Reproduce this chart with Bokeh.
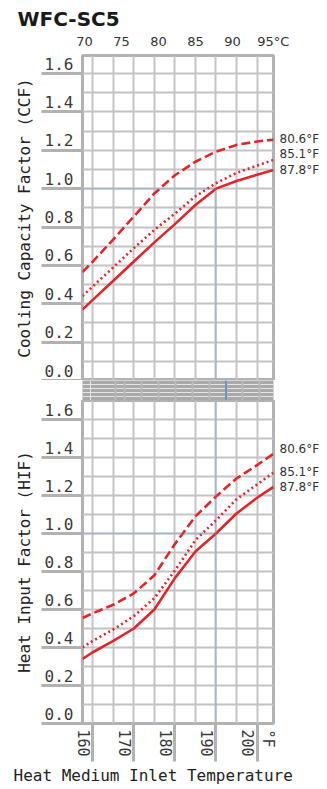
from bokeh.plotting import figure
from bokeh.models import FixedTicker, Range1d, BoxAnnotation, LinearAxis, Title, Grid, Span
from bokeh.layouts import column
from bokeh.embed import file_html
from bokeh.resources import INLINE

# ---------------- data ----------------
temp_f = [157.5, 160, 165, 170, 175, 180, 185, 190, 195, 200, 204]
ccf_806 = [0.565, 0.62, 0.735, 0.855, 0.975, 1.07, 1.14, 1.193, 1.228, 1.246, 1.255]
ccf_851 = [0.44, 0.49, 0.59, 0.69, 0.785, 0.87, 0.96, 1.028, 1.082, 1.12, 1.15]
ccf_878 = [0.37, 0.42, 0.52, 0.62, 0.72, 0.815, 0.915, 1.0, 1.04, 1.072, 1.097]
hif_806 = [0.555, 0.58, 0.625, 0.685, 0.78, 0.945, 1.09, 1.195, 1.29, 1.36, 1.42]
hif_851 = [0.40, 0.435, 0.495, 0.565, 0.66, 0.805, 0.965, 1.07, 1.18, 1.258, 1.32]
hif_878 = [0.34, 0.375, 0.435, 0.50, 0.60, 0.765, 0.905, 1.0, 1.105, 1.188, 1.245]
series_labels = ["80.6°F", "85.1°F", "87.8°F"]

y_tick_values = [0.0, 0.2, 0.4, 0.6, 0.8, 1.0, 1.2, 1.4, 1.6]
y_tick_labels = ["0.0", "0.2", "0.4", "0.6", "0.8", "1.0", "1.2", "1.4", "1.6"]
f_tick_values = [160, 170, 180, 190, 200]
f_tick_labels = ["160", "170", "180", "190", "200"]
f_unit_label = "°F"
c_tick_values = [70, 75, 80, 85, 90, 95]
c_tick_labels = ["70", "75", "80", "85", "90", "95°C"]
design_temp_f = 190
design_factor = 1.0

# ---------------- style ----------------
RED = "#e0262b"
BLUE = "#7292c0"
GRID = "#c4c4c4"
TICK = "#b2b2b2"
BAND = "#a9a9a9"
TXT = "#333333"
MONO = "DejaVu Sans Mono"
SANS = "DejaVu Sans"

W = 322
X_MIN, X_MAX = 157.5, 204.0
PX_PER_F = 194 / (X_MAX - X_MIN)
LABEL_SHIFT_Y = 0.052          # y label sits ~10px above its tick line
LABEL_SHIFT_X = 10 / PX_PER_F  # x label sits ~10px left of its tick line
F_UNIT_POS = X_MAX - 6 / PX_PER_F
C_UNIT_SHIFT = 4 / PX_PER_F    # last top label carries the unit suffix


def style_common(p):
    p.outline_line_color = TICK
    p.outline_line_width = 3
    p.background_fill_color = "white"
    p.border_fill_color = "white"
    p.xgrid.ticker = FixedTicker(ticks=list(range(160, 201, 5)))
    p.ygrid.ticker = FixedTicker(ticks=[i / 10 for i in range(0, 17)])
    for g in (p.xgrid, p.ygrid):
        g.grid_line_color = GRID
        g.grid_line_width = 2
    ax = p.yaxis[0]
    pos = [round(v + LABEL_SHIFT_Y, 3) for v in y_tick_values]
    ax.ticker = FixedTicker(ticks=pos, minor_ticks=y_tick_values)
    ax.major_label_overrides = {t: lab for t, lab in zip(pos, y_tick_labels)}
    ax.major_tick_line_color = None
    ax.major_tick_out = 0
    ax.major_tick_in = 0
    ax.minor_tick_out = 41
    ax.minor_tick_in = 0
    ax.minor_tick_line_color = TICK
    ax.minor_tick_line_width = 3
    ax.axis_line_color = None
    ax.major_label_standoff = -32
    ax.major_label_text_font = MONO
    ax.major_label_text_font_size = "16px"
    ax.major_label_text_color = "#3a3a3a"
    ax.axis_label_text_font = MONO
    ax.axis_label_text_font_size = "16px"
    ax.axis_label_text_font_style = "normal"
    ax.axis_label_text_color = "#222222"
    ax.axis_label_standoff = 8


def draw_curves(p, ys):
    p.line(temp_f, ys[0], line_color=RED, line_width=2.6, line_dash="9 4")
    p.line(temp_f, ys[1], line_color=RED, line_width=2.6, line_dash="2 3")
    p.line(temp_f, ys[2], line_color=RED, line_width=2.6)


def end_labels(p, ys, offsets_px, px_per_unit):
    pos = [round(y[-1] + off / px_per_unit, 4) for y, off in zip(ys, offsets_px)]
    ax = LinearAxis(ticker=FixedTicker(ticks=pos),
                    major_label_overrides={t: lab for t, lab in zip(pos, series_labels)})
    ax.major_tick_line_color = None
    ax.minor_tick_line_color = None
    ax.major_tick_out = 0
    ax.major_tick_in = 0
    ax.minor_tick_out = 0
    ax.minor_tick_in = 0
    ax.axis_line_color = None
    ax.major_label_standoff = 6
    ax.major_label_text_font = SANS
    ax.major_label_text_font_size = "12px"
    ax.major_label_text_color = TXT
    p.add_layout(ax, "right")


# ---------------- upper: CCF ----------------
up = figure(width=W, height=380, x_range=Range1d(X_MIN, X_MAX), y_range=Range1d(0, 1.694),
            x_axis_location="above", output_backend="svg", toolbar_location=None,
            min_border_left=82, min_border_right=W - 276, min_border_top=55, min_border_bottom=0)
style_common(up)
up.yaxis[0].axis_label = "Cooling Capacity Factor (CCF)"

xa = up.xaxis[0]
cpos = [c * 9 / 5 + 32 for c in c_tick_values]
cpos[-1] = cpos[-1] + C_UNIT_SHIFT
xa.ticker = FixedTicker(ticks=cpos)
xa.major_label_overrides = {t: lab for t, lab in zip(cpos, c_tick_labels)}
xa.major_tick_line_color = None
xa.minor_tick_line_color = None
xa.major_tick_out = 0
xa.major_tick_in = 0
xa.minor_tick_out = 0
xa.minor_tick_in = 0
xa.axis_line_color = None
xa.major_label_standoff = 7
xa.major_label_text_font = SANS
xa.major_label_text_font_size = "13px"
xa.major_label_text_color = TXT

up.title.text = "WFC-SC5"
up.title.text_font = SANS
up.title.text_font_style = "bold"
up.title.text_font_size = "20px"
up.title.text_color = "#1a1a1a"
up.title.align = "left"
up.title.offset = -65
up.title.standoff = 0

draw_curves(up, [ccf_806, ccf_851, ccf_878])
end_labels(up, [ccf_806, ccf_851, ccf_878], [1, 6, 0], 191.9)

up.add_layout(BoxAnnotation(left=X_MIN, right=design_temp_f, top=design_factor, bottom=design_factor,
                            fill_alpha=0, line_color=BLUE, line_width=2))
up.add_layout(BoxAnnotation(left=design_temp_f, right=design_temp_f, top=design_factor, bottom=0,
                            fill_alpha=0, line_color=BLUE, line_width=2))

# ---------------- separator band ----------------
band = figure(width=W, height=20, x_range=Range1d(X_MAX - 235 / PX_PER_F, X_MAX), y_range=Range1d(0, 1),
              x_axis_location=None, y_axis_location=None, output_backend="svg", toolbar_location=None,
              min_border_left=41, min_border_right=W - 276, min_border_top=0, min_border_bottom=0)
band.background_fill_color = BAND
band.border_fill_color = "white"
band.outline_line_color = None
band.add_layout(Grid(dimension=0, ticker=FixedTicker(ticks=[X_MIN] + list(range(160, 201, 5))),
                     grid_line_color="#b9b9b9", grid_line_width=2))
band.add_layout(Span(location=design_temp_f, dimension="height", line_color=BLUE, line_width=2))

# ---------------- lower: HIF ----------------
lo = figure(width=W, height=388, x_range=Range1d(X_MIN, X_MAX), y_range=Range1d(0, 1.7),
            x_axis_location="below", output_backend="svg", toolbar_location=None,
            min_border_left=82, min_border_right=W - 276, min_border_top=0, min_border_bottom=61)
style_common(lo)
lo.yaxis[0].axis_label = "Heat Input Factor (HIF)"

bx = lo.xaxis[0]
fpos = [v - LABEL_SHIFT_X for v in f_tick_values] + [F_UNIT_POS]
bx.ticker = FixedTicker(ticks=fpos, minor_ticks=f_tick_values)
bx.major_label_overrides = {t: lab for t, lab in zip(fpos, f_tick_labels + [f_unit_label])}
bx.major_label_orientation = "vertical"
bx.major_tick_line_color = None
bx.major_tick_out = 0
bx.major_tick_in = 0
bx.minor_tick_out = 38
bx.minor_tick_in = 0
bx.minor_tick_line_color = TICK
bx.minor_tick_line_width = 3
bx.axis_line_color = None
bx.major_label_standoff = -32
bx.major_label_text_font = MONO
bx.major_label_text_font_size = "15px"
bx.major_label_text_color = "#3a3a3a"

lo.add_layout(Title(text="Heat Medium Inlet Temperature", align="left", offset=-69, standoff=8,
                    text_font=MONO, text_font_size="16px", text_font_style="normal",
                    text_color="#222222"), "below")

draw_curves(lo, [hif_806, hif_851, hif_878])
end_labels(lo, [hif_806, hif_851, hif_878], [5, 1, 0], 192.4)

lo.add_layout(BoxAnnotation(left=X_MIN, right=design_temp_f, top=design_factor, bottom=design_factor,
                            fill_alpha=0, line_color=BLUE, line_width=2))
lo.add_layout(BoxAnnotation(left=design_temp_f, right=design_temp_f, top=1.7, bottom=0,
                            fill_alpha=0, line_color=BLUE, line_width=2))

layout = column(up, band, lo, spacing=0)
open("out.html", "w").write(file_html(layout, INLINE))
